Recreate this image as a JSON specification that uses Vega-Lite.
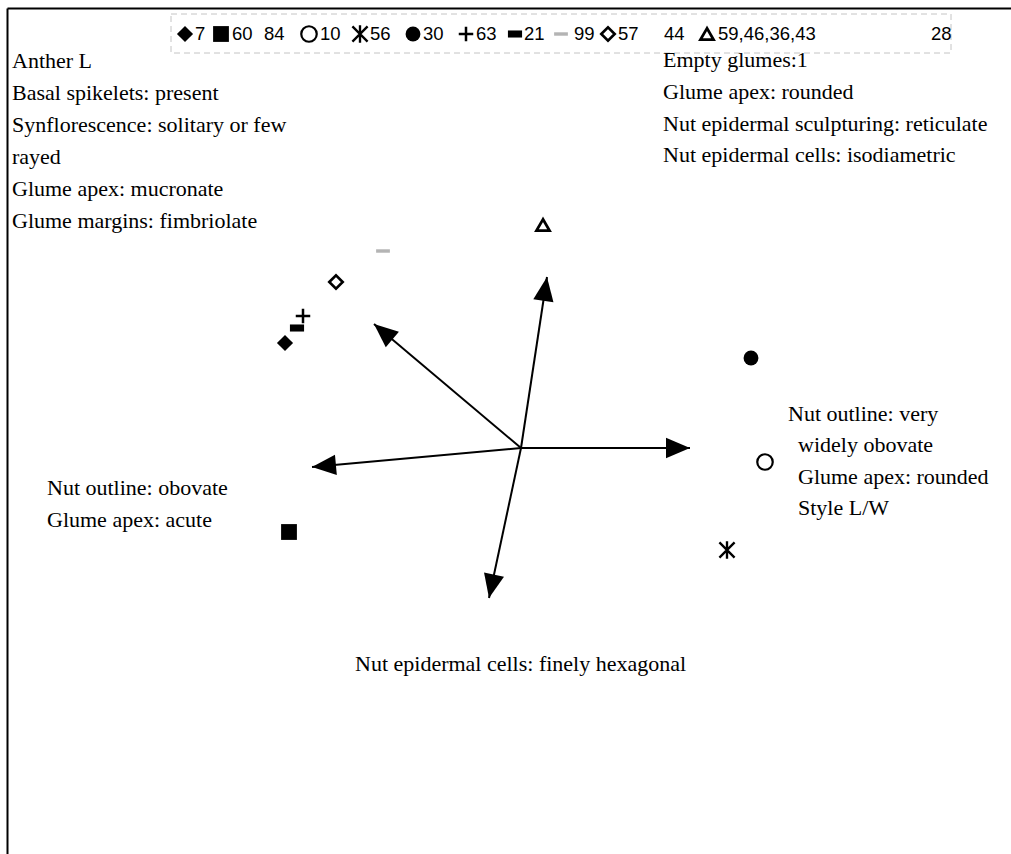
{
  "$schema": "https://vega.github.io/schema/vega-lite/v6.json",
  "width": 1004,
  "height": 846,
  "autosize": {"type": "none"},
  "padding": {"left": 7, "top": 8, "right": 0, "bottom": 0},
  "background": "white",
  "config": {
    "view": {"stroke": null},
    "axis": {"domainColor": "black", "domainWidth": 2, "ticks": false, "labels": false, "grid": false, "title": null}
  },
  "datasets": {
    "arrows": [
      {"trait": "upper-left", "tx": -1.47, "ty": 1.24},
      {"trait": "up", "tx": 0.26, "ty": 1.71},
      {"trait": "right", "tx": 1.69, "ty": 0},
      {"trait": "lower-left", "tx": -2.09, "ty": -0.19},
      {"trait": "down", "tx": -0.32, "ty": -1.5}
    ],
    "pts": [
      {"group": "7", "x": -2.36, "y": 1.05},
      {"group": "60", "x": -2.32, "y": -0.84},
      {"group": "10", "x": 2.44, "y": -0.14},
      {"group": "56", "x": 2.06, "y": -1.02},
      {"group": "30", "x": 2.3, "y": 0.9},
      {"group": "63", "x": -2.18, "y": 1.32},
      {"group": "21", "x": -2.24, "y": 1.2},
      {"group": "99", "x": -1.38, "y": 1.97},
      {"group": "57", "x": -1.85, "y": 1.66},
      {"group": "59,46,36,43", "x": 0.22, "y": 2.23},
      {"group": "7", "x": -3.36, "y": 4.14},
      {"group": "60", "x": -3.0, "y": 4.14},
      {"group": "10", "x": -2.12, "y": 4.14},
      {"group": "56", "x": -1.61, "y": 4.14},
      {"group": "30", "x": -1.08, "y": 4.14},
      {"group": "63", "x": -0.55, "y": 4.14},
      {"group": "21", "x": -0.06, "y": 4.14},
      {"group": "99", "x": 0.4, "y": 4.14},
      {"group": "57", "x": 0.87, "y": 4.14},
      {"group": "59,46,36,43", "x": 1.86, "y": 4.14}
    ],
    "keys": [
      {"text": "7", "x": -3.26, "y": 4.14},
      {"text": "60", "x": -2.89, "y": 4.14},
      {"text": "84", "x": -2.57, "y": 4.14},
      {"text": "10", "x": -2.01, "y": 4.14},
      {"text": "56", "x": -1.51, "y": 4.14},
      {"text": "30", "x": -0.98, "y": 4.14},
      {"text": "63", "x": -0.45, "y": 4.14},
      {"text": "21", "x": 0.03, "y": 4.14},
      {"text": "99", "x": 0.53, "y": 4.14},
      {"text": "57", "x": 0.97, "y": 4.14},
      {"text": "44", "x": 1.43, "y": 4.14},
      {"text": "59,46,36,43", "x": 1.97, "y": 4.14},
      {"text": "28", "x": 4.1, "y": 4.14}
    ],
    "notes": [
      {"text": "Anther L", "x": -5.09, "y": 3.87},
      {"text": "Basal spikelets: present", "x": -5.09, "y": 3.55},
      {"text": "Synflorescence: solitary or few", "x": -5.09, "y": 3.23},
      {"text": "rayed", "x": -5.09, "y": 2.91},
      {"text": "Glume apex: mucronate", "x": -5.09, "y": 2.59},
      {"text": "Glume margins: fimbriolate", "x": -5.09, "y": 2.27},
      {"text": "Empty glumes:1", "x": 1.42, "y": 3.88},
      {"text": "Glume apex: rounded", "x": 1.42, "y": 3.56},
      {"text": "Nut epidermal sculpturing: reticulate", "x": 1.42, "y": 3.24},
      {"text": "Nut epidermal cells: isodiametric", "x": 1.42, "y": 2.93},
      {"text": "Nut outline: very", "x": 2.67, "y": 0.34},
      {"text": "widely obovate", "x": 2.77, "y": 0.03},
      {"text": "Glume apex: rounded", "x": 2.77, "y": -0.29},
      {"text": "Style L/W", "x": 2.77, "y": -0.6},
      {"text": "Nut outline: obovate", "x": -4.74, "y": -0.4},
      {"text": "Glume apex: acute", "x": -4.74, "y": -0.72},
      {"text": "Nut epidermal cells: finely hexagonal", "x": -1.66, "y": -2.16}
    ],
    "keybox": [
      {"x": -3.5, "y": 4.34, "x2": 4.3, "y2": 3.95}
    ]
  },
  "layer": [
    {
      "data": {"name": "keybox"},
      "mark": {"type": "rect", "fill": null, "stroke": "#c4c4c4", "strokeWidth": 1, "strokeDash": [6, 4]},
      "encoding": {
        "x": {"field": "x", "type": "quantitative", "scale": {"domain": [-5.14, 4.9], "zero": false, "nice": false}, "axis": {"orient": "top"}},
        "y": {"field": "y", "type": "quantitative", "scale": {"domain": [-4.06, 4.4], "zero": false, "nice": false}, "axis": {"orient": "left"}},
        "x2": {"field": "x2"},
        "y2": {"field": "y2"}
      }
    },
    {
      "data": {"name": "arrows"},
      "transform": [{"calculate": "0", "as": "ox"}, {"calculate": "0", "as": "oy"}],
      "mark": {"type": "rule", "color": "black", "strokeWidth": 2},
      "encoding": {
        "x": {"field": "ox", "type": "quantitative"},
        "y": {"field": "oy", "type": "quantitative"},
        "x2": {"field": "tx"},
        "y2": {"field": "ty"}
      }
    },
    {
      "data": {"name": "arrows"},
      "transform": [{"calculate": "atan2(-datum.ty, datum.tx) * 180 / PI", "as": "heading"}],
      "mark": {"type": "point", "shape": "M0,0L-2,-0.85L-2,0.85Z", "filled": true, "color": "black", "size": 576, "opacity": 1, "strokeWidth": 0},
      "encoding": {
        "x": {"field": "tx", "type": "quantitative"},
        "y": {"field": "ty", "type": "quantitative"},
        "angle": {"field": "heading", "type": "quantitative", "scale": null}
      }
    },
    {
      "data": {"name": "pts"},
      "transform": [{"filter": {"field": "group", "oneOf": ["7", "60", "30", "21", "99"]}}],
      "mark": {"type": "point", "filled": true, "opacity": 1, "strokeWidth": 0},
      "encoding": {
        "x": {"field": "x", "type": "quantitative"},
        "y": {"field": "y", "type": "quantitative"},
        "shape": {
          "field": "group", "type": "nominal", "legend": null,
          "scale": {
            "domain": ["7", "60", "10", "56", "30", "63", "21", "99", "57", "59,46,36,43"],
            "range": ["diamond", "square", "circle", "M-1,-1L1,1M-1,1L1,-1M0,-1.15L0,1.15", "circle", "M-1,0L1,0M0,-1L0,1", "M-1,-0.5L1,-0.5L1,0.5L-1,0.5Z", "M-1,-0.25L1,-0.25L1,0.25L-1,0.25Z", "diamond", "triangle-up"]
          }
        },
        "size": {
          "field": "group", "type": "nominal", "legend": null,
          "scale": {
            "domain": ["7", "60", "10", "56", "30", "63", "21", "99", "57", "59,46,36,43"],
            "range": [260, 170, 75, 48, 160, 46, 28, 42, 150, 130]
          }
        },
        "color": {
          "field": "group", "type": "nominal", "legend": null,
          "scale": {"domain": ["7", "60", "30", "21", "99"], "range": ["black", "black", "black", "black", "#b4b4b4"]}
        }
      }
    },
    {
      "data": {"name": "pts"},
      "transform": [{"filter": {"field": "group", "oneOf": ["10", "56", "63", "57", "59,46,36,43"]}}],
      "mark": {"type": "point", "filled": false, "stroke": "black", "fill": "white", "opacity": 1},
      "encoding": {
        "x": {"field": "x", "type": "quantitative"},
        "y": {"field": "y", "type": "quantitative"},
        "shape": {
          "field": "group", "type": "nominal", "legend": null,
          "scale": {
            "domain": ["7", "60", "10", "56", "30", "63", "21", "99", "57", "59,46,36,43"],
            "range": ["diamond", "square", "circle", "M-1,-1L1,1M-1,1L1,-1M0,-1.15L0,1.15", "circle", "M-1,0L1,0M0,-1L0,1", "M-1,-0.5L1,-0.5L1,0.5L-1,0.5Z", "M-1,-0.25L1,-0.25L1,0.25L-1,0.25Z", "diamond", "triangle-up"]
          }
        },
        "size": {
          "field": "group", "type": "nominal", "legend": null,
          "scale": {
            "domain": ["7", "60", "10", "56", "30", "63", "21", "99", "57", "59,46,36,43"],
            "range": [260, 170, 75, 48, 160, 46, 28, 42, 150, 130]
          }
        },
        "strokeWidth": {
          "field": "group", "type": "nominal", "legend": null,
          "scale": {"domain": ["10", "56", "63", "57", "59,46,36,43"], "range": [2.2, 2.8, 1.3, 2.6, 2.6]}
        }
      }
    },
    {
      "data": {"name": "keys"},
      "mark": {"type": "text", "align": "left", "baseline": "middle", "font": "Liberation Sans", "fontSize": 18.5, "color": "black"},
      "encoding": {
        "x": {"field": "x", "type": "quantitative"},
        "y": {"field": "y", "type": "quantitative"},
        "text": {"field": "text"}
      }
    },
    {
      "data": {"name": "notes"},
      "mark": {"type": "text", "align": "left", "baseline": "middle", "font": "Liberation Serif", "fontSize": 22, "color": "black"},
      "encoding": {
        "x": {"field": "x", "type": "quantitative"},
        "y": {"field": "y", "type": "quantitative"},
        "text": {"field": "text"}
      }
    }
  ]
}
